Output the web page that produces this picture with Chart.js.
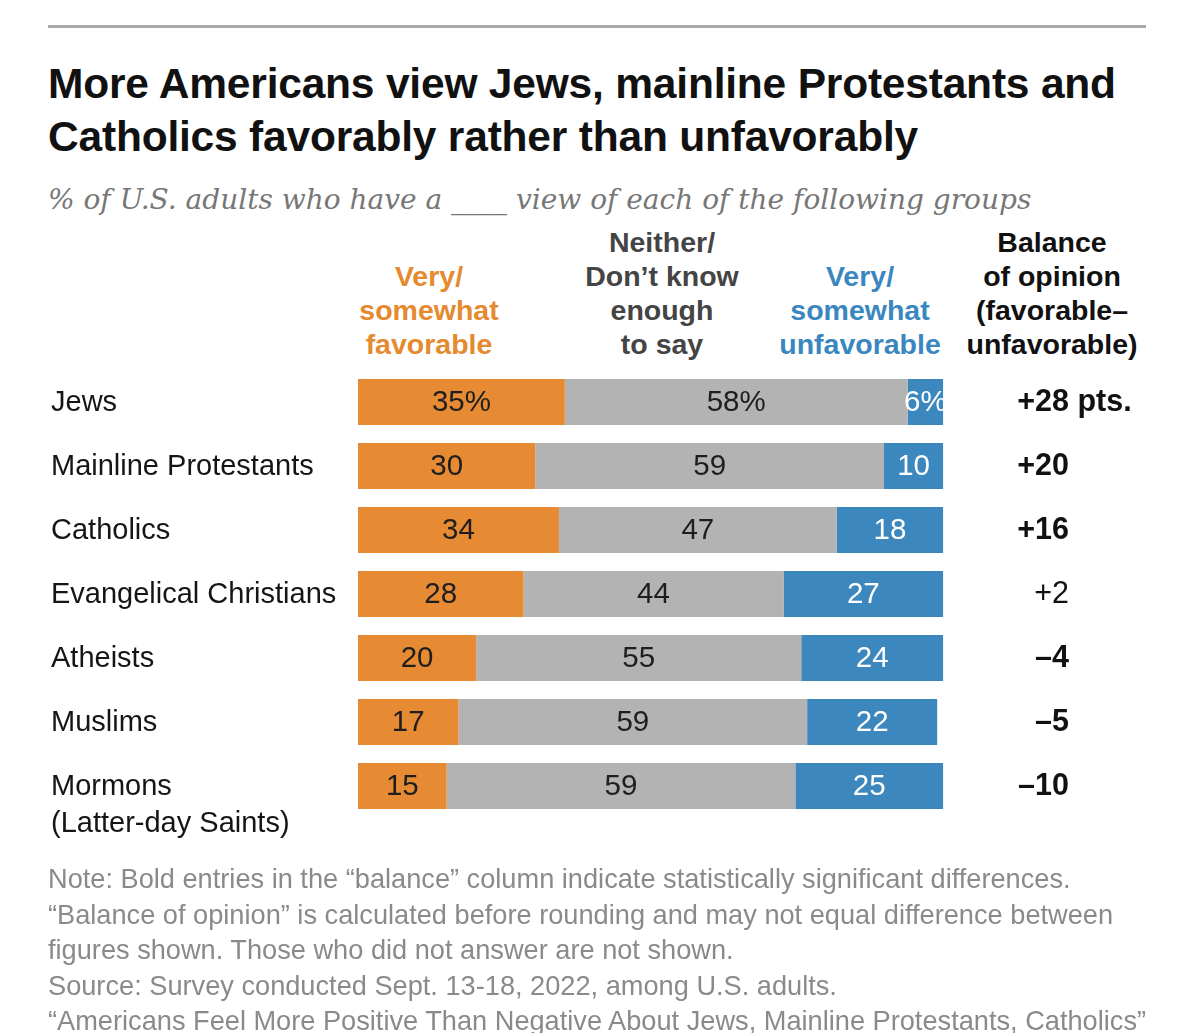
<!DOCTYPE html>
<html>
<head>
<meta charset="utf-8">
<script src="https://cdn.jsdelivr.net/npm/chart.js@4.4.0/dist/chart.umd.min.js"></script>
<style>
  html, body { margin: 0; padding: 0; background: #fff; }
  body { width: 1199px; height: 1033px; position: relative; overflow: hidden; font-family: "Liberation Sans", Arial, sans-serif; }
  #rule { position: absolute; left: 48px; top: 25px; width: 1098px; height: 3px; background: #a9a9a9; }
  #title { position: absolute; left: 48px; top: 57px; font-weight: bold; font-size: 42.5px; line-height: 53px; color: #111; letter-spacing: -0.2px; white-space: nowrap; }
  #subtitle { position: absolute; left: 48px; top: 183px; font-family: "DejaVu Serif", serif; font-style: italic; font-size: 28px; color: #777; white-space: nowrap; }
  .head { position: absolute; text-align: center; font-weight: bold; font-size: 28.5px; line-height: 34px; width: 220px; }
  #notes { position: absolute; left: 48px; top: 861px; font-size: 27.2px; line-height: 35.5px; color: #8a8a8a; white-space: nowrap; }
  canvas { position: absolute; left: 0; top: 0; }
</style>
</head>
<body>
<div id="rule"></div>
<div id="title">More Americans view Jews, mainline Protestants and<br>Catholics favorably rather than unfavorably</div>
<div id="subtitle">% of U.S. adults who have a ____ view of each of the following groups</div>

<div class="head" style="left:319px; top:259px; color:#e58a2e;">Very/<br>somewhat<br>favorable</div>
<div class="head" style="left:552px; top:225px; color:#444;">Neither/<br>Don’t know<br>enough<br>to say</div>
<div class="head" style="left:750px; top:259px; color:#3a87c0;">Very/<br>somewhat<br>unfavorable</div>
<div class="head" style="left:942px; top:225px; color:#111;">Balance<br>of opinion<br>(favorable–<br>unfavorable)</div>

<canvas id="chart" width="1199" height="1033"></canvas>

<div id="notes">Note: Bold entries in the “balance” column indicate statistically significant differences.<br>“Balance of opinion” is calculated before rounding and may not equal difference between<br>figures shown. Those who did not answer are not shown.<br>Source: Survey conducted Sept. 13-18, 2022, among U.S. adults.<br>“Americans Feel More Positive Than Negative About Jews, Mainline Protestants, Catholics”</div>

<script>
// --- Data ---
const groups = ["Jews", "Mainline Protestants", "Catholics", "Evangelical Christians", "Atheists", "Muslims", "Mormons"];
const groupLabelLines = [["Jews"], ["Mainline Protestants"], ["Catholics"], ["Evangelical Christians"], ["Atheists"], ["Muslims"], ["Mormons", "(Latter-day Saints)"]];
const favorable = [35, 30, 34, 28, 20, 17, 15];
const neither = [58, 59, 47, 44, 55, 59, 59];
const unfavorable = [6, 10, 18, 27, 24, 22, 25];
const balance = ["+28", "+20", "+16", "+2", "–4", "–5", "–10"];
const balanceBold = [true, true, true, false, true, true, true];

const colors = {
    favorable: '#e68b33',
    neither: '#b3b3b3',
    unfavorable: '#3c87be'
};

const FONT = '"Liberation Sans", Arial, sans-serif';

// draws value labels inside the bars, group names and the balance column
const labelsPlugin = {
    id: 'barLabels',
    afterDatasetsDraw(chart) {
        const ctx = chart.ctx;
        const yScale = chart.scales.y;
        ctx.save();
        ctx.textBaseline = 'middle';

        // values inside segments
        chart.data.datasets.forEach((ds, di) => {
            const meta = chart.getDatasetMeta(di);
            meta.data.forEach((bar, i) => {
                const cx = (bar.x + bar.base) / 2;
                let txt = String(ds.data[i]);
                if (i === 0) txt += '%';
                ctx.font = '29.5px ' + FONT;
                ctx.fillStyle = di === 2 ? '#ffffff' : '#1e1e1e';
                ctx.textAlign = 'center';
                ctx.fillText(txt, cx, bar.y + 1);
            });
        });

        // group names on the left
        ctx.fillStyle = '#151515';
        ctx.textAlign = 'left';
        ctx.font = '29px ' + FONT;
        groupLabelLines.forEach((lines, i) => {
            const y = yScale.getPixelForValue(i);
            lines.forEach((line, li) => {
                ctx.fillText(line, 51, y + 1 + li * 37);
            });
        });

        // balance of opinion
        balance.forEach((b, i) => {
            const y = yScale.getPixelForValue(i);
            ctx.font = (balanceBold[i] ? 'bold ' : '') + '30.5px ' + FONT;
            ctx.fillStyle = '#111';
            ctx.textAlign = 'right';
            ctx.fillText(b, 1069, y + 1);
            if (i === 0) {
                ctx.textAlign = 'left';
                ctx.fillText(' pts.', 1069, y + 1);
            }
        });
        ctx.restore();
    }
};

const canvasElement = document.getElementById('chart');
const ctx = canvasElement.getContext('2d');

new Chart(ctx, {
    type: 'bar',
    data: {
        labels: groups,
        datasets: [
            { label: 'Very/somewhat favorable', data: favorable, backgroundColor: colors.favorable },
            { label: 'Neither/Don’t know enough to say', data: neither, backgroundColor: colors.neither },
            { label: 'Very/somewhat unfavorable', data: unfavorable, backgroundColor: colors.unfavorable }
        ]
    },
    options: {
        indexAxis: 'y',
        responsive: false,
        animation: false,
        devicePixelRatio: 1,
        layout: {
            padding: { left: 358, right: 250, top: 370, bottom: 215 }
        },
        datasets: {
            bar: { categoryPercentage: 1, barPercentage: 0.72, borderWidth: 0 }
        },
        scales: {
            x: { stacked: true, min: 0, max: 100, display: false },
            y: { stacked: true, display: false }
        },
        plugins: {
            legend: { display: false },
            tooltip: { enabled: false }
        }
    },
    plugins: [labelsPlugin]
});
</script>
</body>
</html>
